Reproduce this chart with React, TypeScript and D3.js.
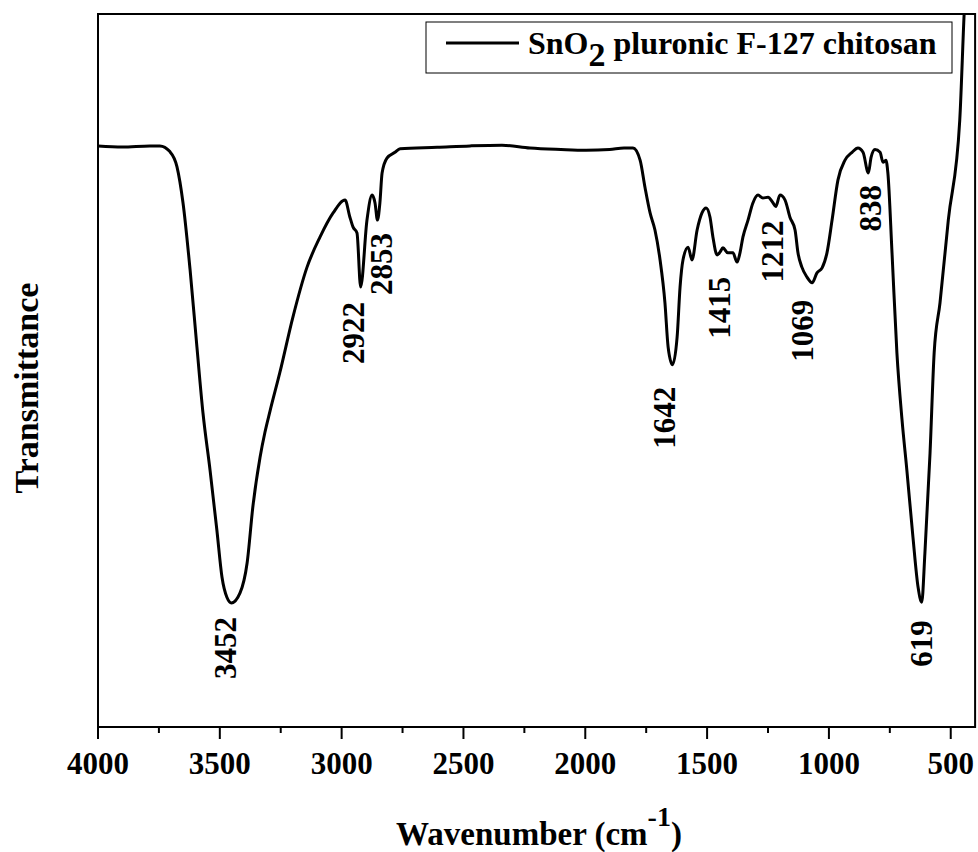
import React from "react";
import * as d3 from "d3";

// ---- data ----
const wavenumbers = [
  4000, 3900, 3787, 3746, 3705, 3676, 3651, 3622, 3594, 3569, 3540, 3512, 3491, 3471, 3452,
  3417, 3388, 3364, 3335, 3315, 3294, 3253, 3200, 3142, 3089, 3035, 2986, 2966, 2953, 2937,
  2922, 2896, 2875, 2863, 2853, 2843, 2834, 2814, 2781, 2760, 2608, 2473, 2342, 2227, 2100,
  1997, 1900, 1841, 1804, 1775, 1755, 1734, 1714, 1693, 1673, 1660, 1642, 1623, 1611, 1599,
  1578, 1562, 1541, 1521, 1504, 1488, 1476, 1459, 1447, 1435, 1415, 1394, 1377, 1365, 1353,
  1332, 1312, 1291, 1271, 1250, 1229, 1218, 1201, 1180, 1160, 1139, 1127, 1111, 1090, 1069,
  1049, 1028, 1008, 987, 963, 934, 905, 881, 860, 838, 827, 811, 790, 778, 766, 758, 741,
  721, 700, 680, 655, 634, 619, 606, 585, 568, 544, 510, 463, 445, 430,
];
const transmittance = [
  81.5, 81.35, 81.5, 81.5, 80.7, 78.6, 73.5, 64.1, 53.3, 44.0, 36.0, 27.6, 21.0, 18.2, 17.4,
  18.8, 23.0, 31.0, 37.8, 41.3, 44.3, 49.8, 57.5, 64.5, 68.7, 72.1, 73.9, 71.5, 70.1, 69.3,
  61.7, 71.1, 74.6, 73.5, 71.1, 73.5, 77.7, 79.8, 80.6, 81.1, 81.3, 81.5, 81.6, 81.2, 81.0,
  80.9, 81.0, 81.2, 81.2, 79.5, 75.7, 72.1, 69.7, 65.5, 59.5, 53.3, 50.8, 54.7, 61.7, 65.5,
  67.3, 65.5, 69.7, 72.1, 72.8, 71.5, 68.7, 66.2, 66.6, 67.2, 66.5, 66.5, 65.2, 66.5, 68.7,
  71.1, 73.5, 74.6, 74.2, 74.3, 73.5, 73.0, 74.6, 73.9, 71.5, 69.7, 66.5, 64.5, 63.1, 62.3,
  63.7, 64.4, 66.5, 71.1, 76.7, 79.5, 80.6, 81.2, 80.6, 77.7, 79.9, 81.0, 80.6, 79.2, 79.5,
  77.7, 66.5, 52.5, 43.1, 36.0, 26.6, 19.6, 17.5, 24.4, 38.4, 52.5, 59.5, 71.1, 85.1, 100, 110,
];
const peakLabels = [3452, 2922, 2853, 1642, 1415, 1212, 1069, 838, 619];
const xTicks = [4000, 3500, 3000, 2500, 2000, 1500, 1000, 500];
const xMinorTicks = [3750, 3250, 2750, 2250, 1750, 1250, 750];
const seriesName = "SnO";
const seriesSub = "2";
const seriesRest = " pluronic F-127 chitosan";

// ---- layout ----
const W = 978;
const H = 852;
const L = 98;
const T = 14;
const B = 727;
const FONT = "'Liberation Serif', 'Times New Roman', serif";
// label nudges (layout only): [dx, gap below the band minimum]
const labelNudge: [number, number][] = [
  [-6.5, 14], [-7.6, 15], [3.6, 13], [-8.5, 22], [-8.8, 24], [-5.2, 14], [-10, 17], [2.6, 12], [0, 18],
];

export default function App() {
  const x = d3.scaleLinear().domain([4000, 400]).range([L, 975.1]);
  const y = d3.scaleLinear().domain([0, 100]).range([B, T]);
  const R = x(400);
  const pts = wavenumbers.map((w, i) => [w, transmittance[i]] as [number, number]);
  const line = d3
    .line<[number, number]>()
    .x((d) => x(d[0]))
    .y((d) => y(d[1]))
    .curve(d3.curveMonotoneX);

  const valueAt = (w: number) => {
    let best = Infinity;
    pts.forEach((p) => {
      if (Math.abs(p[0] - w) <= 10 && p[1] < best) best = p[1];
    });
    return best;
  };

  return (
    <svg
      width={W}
      height={H}
      style={{ position: "absolute", left: 0, top: 0, display: "block", background: "#fff" }}
      fontFamily={FONT}
      fontWeight="bold"
    >
      <defs>
        <clipPath id="plotclip">
          <rect x={L} y={T} width={R - L} height={B - T} />
        </clipPath>
      </defs>
      <rect x={0} y={0} width={W} height={H} fill="#fff" />
      <path d={line(pts) || ""} fill="none" stroke="#000" strokeWidth={3} strokeLinejoin="round" clipPath="url(#plotclip)" />
      <rect x={L} y={T} width={R - L} height={B - T} fill="none" stroke="#000" strokeWidth={2} />
      {xTicks.map((t) => (
        <g key={t}>
          <line x1={x(t)} x2={x(t)} y1={B} y2={B + 12} stroke="#000" strokeWidth={2} />
          <text x={x(t)} y={774} textAnchor="middle" fontSize={31}>
            {t}
          </text>
        </g>
      ))}
      {xMinorTicks.map((t) => (
        <line key={t} x1={x(t)} x2={x(t)} y1={B} y2={B + 6} stroke="#000" strokeWidth={2} />
      ))}
      {peakLabels.map((w, i) => {
        const cx = x(w) + labelNudge[i][0];
        const top = y(valueAt(w)) + labelNudge[i][1];
        return (
          <text
            key={w}
            transform={`translate(${cx},${top}) rotate(-90)`}
            textAnchor="end"
            dominantBaseline="central"
            fontSize={31}
          >
            {w}
          </text>
        );
      })}
      <rect x={426} y={22} width={526} height={51} fill="#fff" stroke="#000" strokeWidth={1} />
      <line x1={446} x2={519} y1={43} y2={43} stroke="#000" strokeWidth={3} />
      <text x={528} y={54} fontSize={32}>
        {seriesName}
        <tspan dy={12} fontSize={34}>{seriesSub}</tspan>
        <tspan dy={-12}>{seriesRest}</tspan>
      </text>
      <text x={539} y={845} textAnchor="middle" fontSize={33}>
        Wavenumber (cm<tspan dy={-19} fontSize={28}>-1</tspan>
        <tspan dy={19}>)</tspan>
      </text>
      <text transform={`translate(38,388) rotate(-90)`} textAnchor="middle" fontSize={34}>
        Transmittance
      </text>
    </svg>
  );
}
